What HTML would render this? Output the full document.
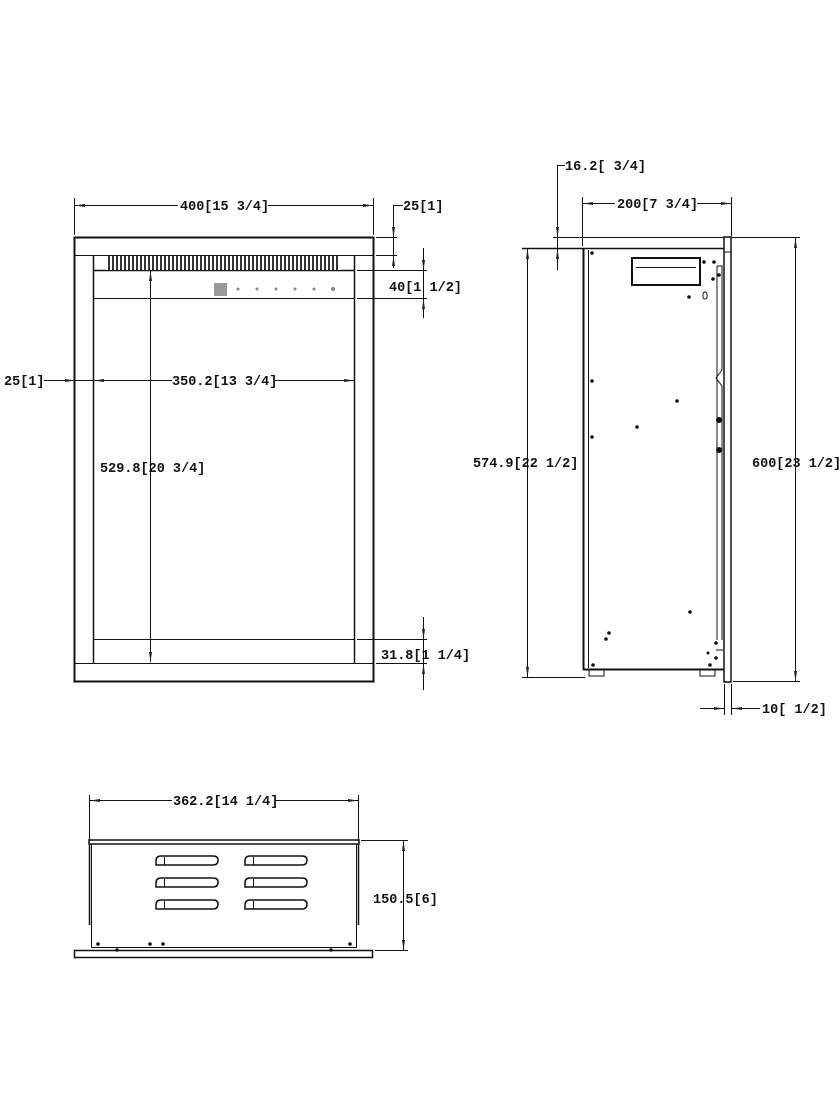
<!DOCTYPE html>
<html><head><meta charset="utf-8"><style>
html,body{margin:0;padding:0;background:#fff;}
svg{display:block}
text{font-family:"Liberation Mono","DejaVu Sans Mono",monospace;font-weight:bold;font-size:13.5px;fill:#111}
</style></head><body>
<svg width="840" height="1120" viewBox="0 0 840 1120" xmlns="http://www.w3.org/2000/svg">
<defs>
<marker id="a" viewBox="0 0 10 6" refX="10" refY="3" markerWidth="10" markerHeight="6" orient="auto-start-reverse" markerUnits="userSpaceOnUse"><path d="M0,1.5 L10,3 L0,4.5z" fill="#222"/></marker>
</defs>
<g stroke="#111" fill="none" stroke-width="1">
<!-- FRONT VIEW -->
<rect x="74.5" y="237.5" width="299" height="444" stroke-width="2"/>
<line x1="75" y1="255.5" x2="373" y2="255.5"/>
<line x1="93.5" y1="255" x2="93.5" y2="663" stroke-width="1.5"/>
<line x1="354.5" y1="255" x2="354.5" y2="663" stroke-width="1.5"/>
<line x1="93" y1="270.5" x2="355" y2="270.5" stroke-width="1.5"/>
<line x1="93" y1="298.5" x2="355" y2="298.5"/>
<line x1="93" y1="639.5" x2="355" y2="639.5"/>
<line x1="75" y1="663.5" x2="373" y2="663.5"/>
<!-- dims front -->
<line x1="74.5" y1="198" x2="74.5" y2="235"/>
<line x1="373.5" y1="198" x2="373.5" y2="235"/>
<line x1="75" y1="205.5" x2="178" y2="205.5" marker-start="url(#a)"/>
<line x1="268" y1="205.5" x2="373" y2="205.5" marker-end="url(#a)"/>
<line x1="376" y1="237.5" x2="397" y2="237.5"/>
<line x1="376" y1="255.5" x2="397" y2="255.5"/>
<polyline points="403,205.5 393.5,205.5 393.5,268"/>
<line x1="393.5" y1="225" x2="393.5" y2="237" marker-end="url(#a)"/>
<line x1="393.5" y1="268" x2="393.5" y2="256" marker-end="url(#a)"/>
<line x1="357" y1="270.5" x2="427" y2="270.5"/>
<line x1="357" y1="298.5" x2="427" y2="298.5"/>
<line x1="423.5" y1="248" x2="423.5" y2="270" marker-end="url(#a)"/>
<line x1="423.5" y1="318" x2="423.5" y2="299" marker-end="url(#a)"/>
<line x1="423.5" y1="270" x2="423.5" y2="299"/>
<line x1="44" y1="380.5" x2="75" y2="380.5"/>
<line x1="75" y1="380.5" x2="93" y2="380.5"/>
<line x1="60" y1="380.5" x2="75" y2="380.5" marker-end="url(#a)"/>
<line x1="115" y1="380.5" x2="94" y2="380.5" marker-end="url(#a)"/>
<line x1="115" y1="380.5" x2="172" y2="380.5"/>
<line x1="275" y1="380.5" x2="354" y2="380.5" marker-end="url(#a)"/>
<line x1="150.5" y1="271" x2="150.5" y2="662" marker-start="url(#a)" marker-end="url(#a)"/>
<line x1="357" y1="639.5" x2="427" y2="639.5"/>
<line x1="376" y1="663.5" x2="427" y2="663.5"/>
<line x1="423.5" y1="617" x2="423.5" y2="639" marker-end="url(#a)"/>
<line x1="423.5" y1="690" x2="423.5" y2="664" marker-end="url(#a)"/>
<line x1="423.5" y1="639" x2="423.5" y2="664"/>
</g>
<!-- vent strip -->
<rect x="106" y="256" width="234" height="14" fill="url(#vs)"/>
<defs><pattern id="vs" width="4" height="14" patternUnits="userSpaceOnUse"><rect width="4" height="14" fill="#fff"/><rect width="2" height="14" fill="#333"/></pattern></defs>
<rect x="214" y="283" width="13" height="13" fill="#999"/>
<g fill="#888"><circle cx="238" cy="289" r="1.5"/><circle cx="257" cy="289" r="1.5"/><circle cx="276" cy="289" r="1.5"/><circle cx="295" cy="289" r="1.5"/><circle cx="314" cy="289" r="1.5"/><circle cx="333" cy="289" r="2"/></g>
<text x="180" y="210">400[15 3/4]</text>
<text x="403" y="210">25[1]</text>
<text x="389" y="291">40[1 1/2]</text>
<text x="4" y="385">25[1]</text>
<text x="172" y="385">350.2[13 3/4]</text>
<text x="100" y="472">529.8[20 3/4]</text>
<text x="381" y="659">31.8[1 1/4]</text>

<!-- SIDE VIEW -->
<g stroke="#111" fill="none" stroke-width="1">
<line x1="583.5" y1="248" x2="583.5" y2="670" stroke-width="2"/>
<line x1="588.5" y1="250" x2="588.5" y2="668"/>
<line x1="522" y1="248.5" x2="724" y2="248.5" stroke-width="1.5"/>
<line x1="583" y1="669.5" x2="724" y2="669.5" stroke-width="2"/>
<rect x="724" y="237" width="7" height="445" stroke-width="1.5"/>
<line x1="724.5" y1="252" x2="731" y2="252"/>
<polyline points="717,266 722,266 722,370 716,378 722,386 722,640"/>
<line x1="717" y1="266" x2="717" y2="640"/>
<rect x="632" y="258" width="68" height="27" stroke-width="2"/>
<line x1="636" y1="267.5" x2="696" y2="267.5"/>
<rect x="703" y="292" width="4" height="7" rx="2"/>
<rect x="589" y="670" width="15" height="6"/>
<rect x="700" y="670" width="15" height="6"/>
<line x1="716" y1="650" x2="723" y2="650"/>
<!-- dims side -->
<line x1="553" y1="237.5" x2="724" y2="237.5"/>
<line x1="731" y1="237.5" x2="800" y2="237.5"/>
<polyline points="565,165.5 557.5,165.5 557.5,270"/>
<line x1="557.5" y1="225" x2="557.5" y2="237" marker-end="url(#a)"/>
<line x1="557.5" y1="268" x2="557.5" y2="249" marker-end="url(#a)"/>
<line x1="582.5" y1="197" x2="582.5" y2="246"/>
<line x1="731.5" y1="197" x2="731.5" y2="236"/>
<line x1="583" y1="203.5" x2="615" y2="203.5" marker-start="url(#a)"/>
<line x1="697" y1="203.5" x2="731" y2="203.5" marker-end="url(#a)"/>
<line x1="527.5" y1="249" x2="527.5" y2="677" marker-start="url(#a)" marker-end="url(#a)"/>
<line x1="522" y1="677.5" x2="585" y2="677.5"/>
<line x1="795.5" y1="238" x2="795.5" y2="681" marker-start="url(#a)" marker-end="url(#a)"/>
<line x1="733" y1="681.5" x2="800" y2="681.5"/>
<line x1="724.5" y1="684" x2="724.5" y2="715"/>
<line x1="731.5" y1="684" x2="731.5" y2="715"/>
<line x1="700" y1="708.5" x2="724" y2="708.5" marker-end="url(#a)"/>
<line x1="760" y1="708.5" x2="732" y2="708.5" marker-end="url(#a)"/>
</g>
<g fill="#111">
<circle cx="592" cy="253" r="1.8"/><circle cx="704" cy="262" r="1.8"/><circle cx="714" cy="262" r="1.8"/><circle cx="713" cy="279" r="1.8"/><circle cx="719" cy="275" r="1.8"/>
<circle cx="689" cy="297" r="1.8"/><circle cx="592" cy="381" r="1.8"/><circle cx="677" cy="401" r="1.8"/><circle cx="637" cy="427" r="1.8"/><circle cx="592" cy="437" r="1.8"/>
<circle cx="719" cy="420" r="3"/><circle cx="719" cy="450" r="3"/><circle cx="690" cy="612" r="1.8"/><circle cx="609" cy="633" r="1.8"/><circle cx="606" cy="639" r="1.8"/>
<circle cx="593" cy="665" r="1.8"/><circle cx="710" cy="665" r="1.8"/><circle cx="708" cy="653" r="1.5"/><circle cx="716" cy="643" r="1.8"/><circle cx="716" cy="658" r="1.8"/>
</g>
<text x="565" y="170">16.2[ 3/4]</text>
<text x="617" y="208">200[7 3/4]</text>
<text x="473" y="467">574.9[22 1/2]</text>
<text x="752" y="467">600[23 1/2]</text>
<text x="762" y="713">10[ 1/2]</text>

<!-- BOTTOM VIEW -->
<g stroke="#111" fill="none" stroke-width="1">
<line x1="89.5" y1="795" x2="89.5" y2="840"/>
<line x1="358.5" y1="795" x2="358.5" y2="840"/>
<line x1="90" y1="800.5" x2="172" y2="800.5" marker-start="url(#a)"/>
<line x1="275" y1="800.5" x2="358" y2="800.5" marker-end="url(#a)"/>
<rect x="89" y="840" width="270" height="4" stroke-width="1.5"/>
<line x1="89.5" y1="844" x2="89.5" y2="925" stroke-width="1.5"/>
<line x1="358.5" y1="844" x2="358.5" y2="925" stroke-width="1.5"/>
<line x1="91.5" y1="844" x2="91.5" y2="948"/>
<line x1="356.5" y1="844" x2="356.5" y2="948"/>
<line x1="91" y1="947.5" x2="357" y2="947.5"/>
<rect x="74.5" y="950.5" width="298" height="7" stroke-width="1.5"/>
<line x1="361" y1="840.5" x2="408" y2="840.5"/>
<line x1="375" y1="950.5" x2="408" y2="950.5"/>
<line x1="403.5" y1="841" x2="403.5" y2="950" marker-start="url(#a)" marker-end="url(#a)"/>
<g stroke-width="1.5">
<path d="M160,865 L213,865 Q218,865 218,860 Q218,856 213,856 L161,856 Q156,856 156,861 L156,865 Z"/>
<path d="M160,887 L213,887 Q218,887 218,882 Q218,878 213,878 L161,878 Q156,878 156,883 L156,887 Z"/>
<path d="M160,909 L213,909 Q218,909 218,904 Q218,900 213,900 L161,900 Q156,900 156,905 L156,909 Z"/>
<path d="M249,865 L302,865 Q307,865 307,860 Q307,856 302,856 L250,856 Q245,856 245,861 L245,865 Z"/>
<path d="M249,887 L302,887 Q307,887 307,882 Q307,878 302,878 L250,878 Q245,878 245,883 L245,887 Z"/>
<path d="M249,909 L302,909 Q307,909 307,904 Q307,900 302,900 L250,900 Q245,900 245,905 L245,909 Z"/>
</g>
<g stroke-width="1"><line x1="164.5" y1="857" x2="164.5" y2="865"/><line x1="164.5" y1="879" x2="164.5" y2="887"/><line x1="164.5" y1="901" x2="164.5" y2="909"/><line x1="253.5" y1="857" x2="253.5" y2="865"/><line x1="253.5" y1="879" x2="253.5" y2="887"/><line x1="253.5" y1="901" x2="253.5" y2="909"/></g>
</g>
<g fill="#111"><circle cx="98" cy="944" r="1.8"/><circle cx="117" cy="950" r="1.8"/><circle cx="150" cy="944" r="1.8"/><circle cx="163" cy="944" r="1.8"/><circle cx="331" cy="950" r="1.8"/><circle cx="350" cy="944" r="1.8"/></g>
<text x="173" y="805">362.2[14 1/4]</text>
<text x="373" y="903">150.5[6]</text>
</svg>
</body></html>
